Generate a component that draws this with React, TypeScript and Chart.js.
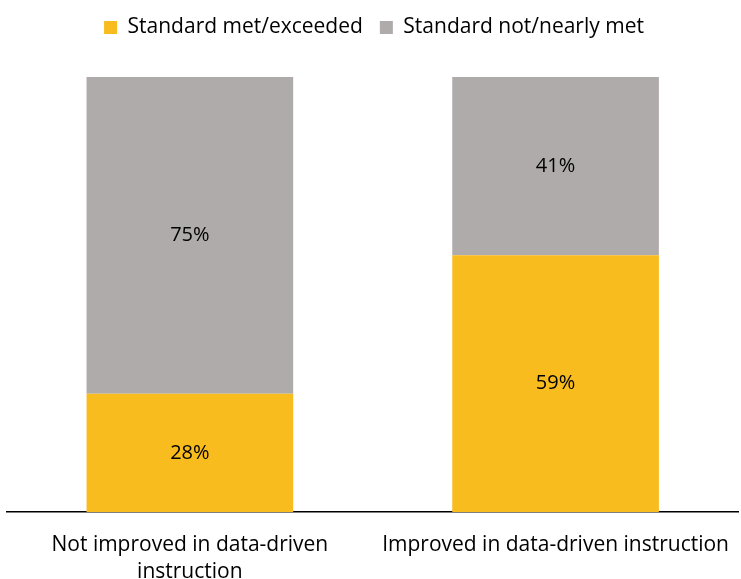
import React, { useEffect, useRef } from "react";
import { Chart, registerables } from "chart.js";

Chart.register(...registerables);

const categories: (string | string[])[] = [
  ["Not improved in data-driven", "instruction"],
  "Improved in data-driven instruction",
];
const seriesNames = ["Standard met/exceeded", "Standard not/nearly met"];
const metValues = [28, 59];
const notMetValues = [75, 41];
const colors = ["#F9BC1F", "#AFABAB"];

const FONT = "'Open Sans', sans-serif";

const share = (a: number[], b: number[]) => a.map((v, i) => (v / (v + b[i])) * 100);

const labelPlugin = {
  id: "barLabels",
  afterDatasetsDraw(chart: any) {
    const ctx = chart.ctx;
    const raw = [metValues, notMetValues];
    ctx.save();
    ctx.font = `20px ${FONT}`;
    ctx.fillStyle = "#000";
    ctx.textAlign = "center";
    ctx.textBaseline = "middle";
    chart.data.datasets.forEach((_: any, di: number) => {
      const meta = chart.getDatasetMeta(di);
      meta.data.forEach((el: any, i: number) => {
        const y = (el.y + el.base) / 2;
        ctx.fillText(`${raw[di][i]}%`, el.x, y);
      });
    });
    ctx.restore();
  },
};

const legendSpace = {
  id: "legendSpace",
  beforeInit(chart: any) {
    const legend = chart.legend;
    if (!legend) return;
    const fit = legend.fit;
    legend.fit = function () {
      fit.call(this);
      this.height = 77;
    };
  },
};

export default function App() {
  const ref = useRef<HTMLCanvasElement>(null);
  useEffect(() => {
    document.body.style.margin = "0";
    const chart = new Chart(ref.current!, {
      type: "bar",
      data: {
        labels: categories,
        datasets: [
          {
            label: seriesNames[0],
            data: share(metValues, notMetValues),
            backgroundColor: colors[0],
            barPercentage: 0.565,
            categoryPercentage: 1,
          },
          {
            label: seriesNames[1],
            data: share(notMetValues, metValues),
            backgroundColor: colors[1],
            barPercentage: 0.565,
            categoryPercentage: 1,
          },
        ],
      },
      options: {
        animation: false,
        responsive: false,
        maintainAspectRatio: false,
        layout: { padding: { left: 7, right: 0, top: 0, bottom: 0 } },
        plugins: {
          legend: {
            position: "top",
            labels: {
              boxWidth: 13,
              boxHeight: 13,
              color: "#000",
              font: { family: FONT, size: 21 },
              padding: 17,
            },
          },
          tooltip: { enabled: false },
          title: { display: false },
        },
        scales: {
          x: {
            stacked: true,
            grid: { display: false },
            border: { display: true, color: "#000", width: 1.5 },
            ticks: {
              color: "#000",
              font: { family: FONT, size: 21, lineHeight: 1.28 },
              maxRotation: 0,
              autoSkip: false,
              padding: 12,
            },
            afterFit(scale: any) {
              scale.height = 67;
            },
          },
          y: {
            stacked: true,
            display: false,
            min: 0,
            max: 100,
          },
        },
      },
      plugins: [labelPlugin, legendSpace],
    });
    return () => chart.destroy();
  }, []);
  return (
    <div style={{ width: 741, height: 579 }}>
      <canvas ref={ref} width={741} height={579} style={{ display: "block" }} />
    </div>
  );
}
